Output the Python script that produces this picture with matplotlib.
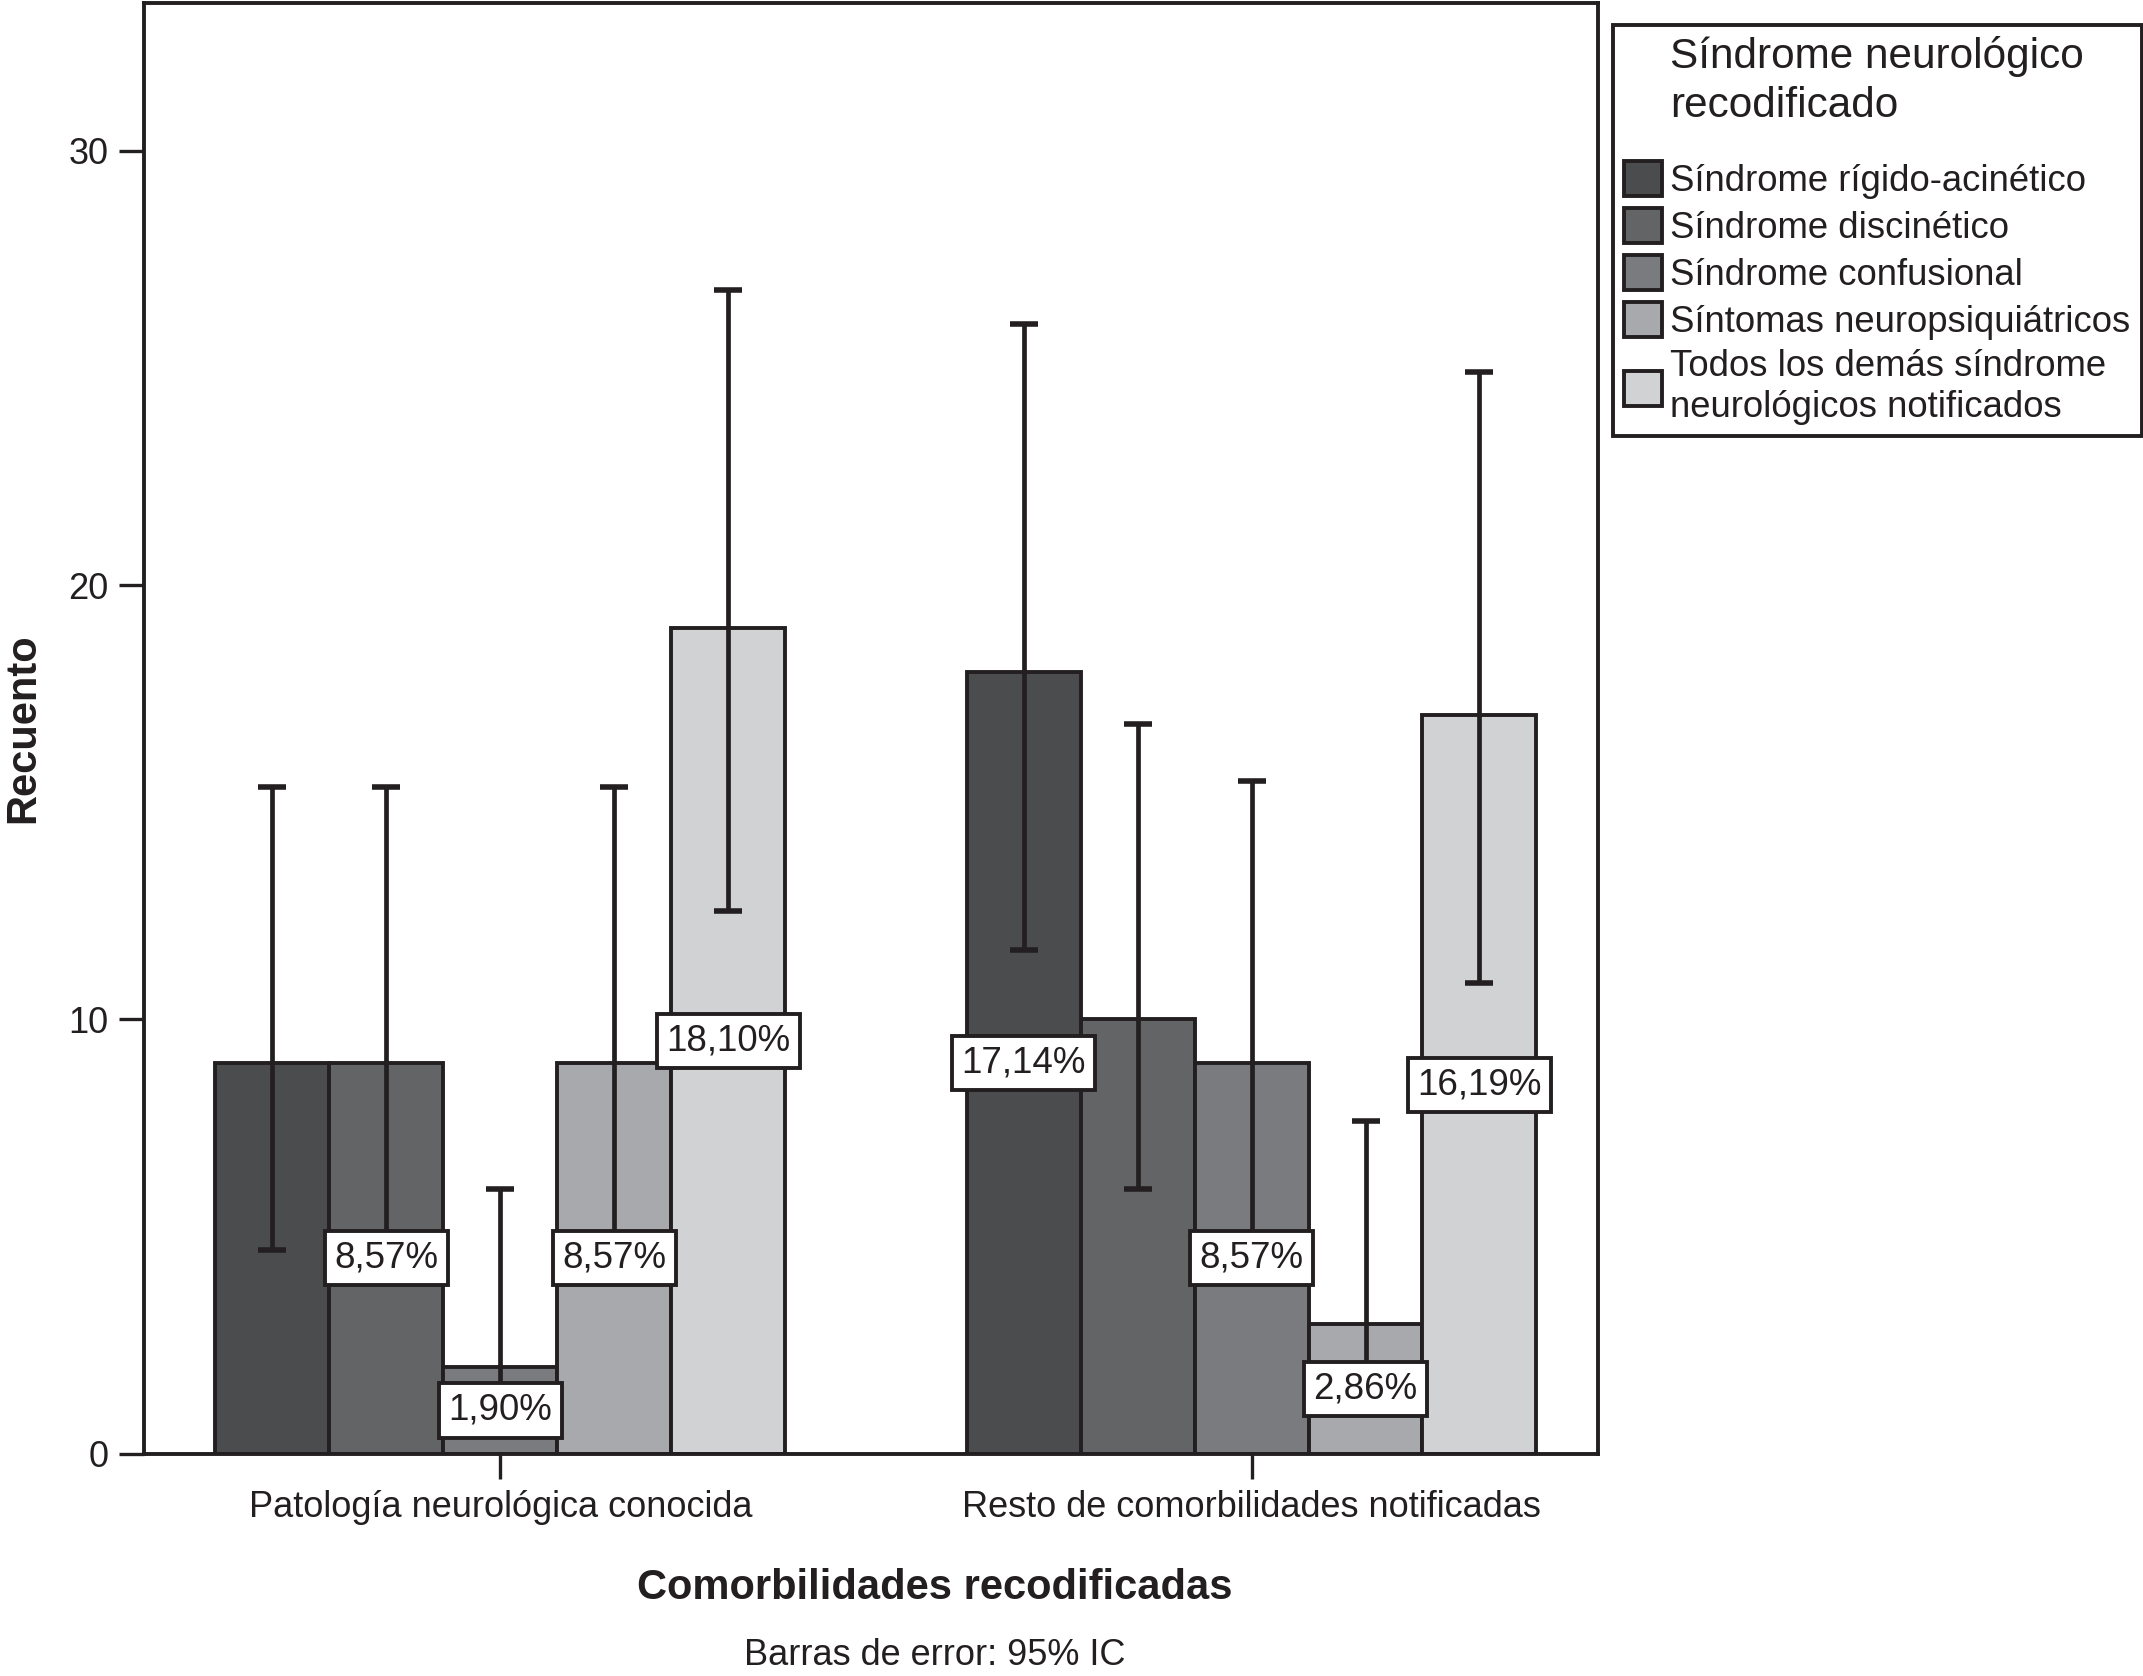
import numpy as np
import matplotlib.pyplot as plt

plt.rcParams['font.family'] = ['Liberation Sans', 'DejaVu Sans']

# Datos
comorbilidades = ["Patología neurológica conocida", "Resto de comorbilidades notificadas"]
sindromes = ["Síndrome rígido-acinético", "Síndrome discinético", "Síndrome confusional",
             "Síntomas neuropsiquiátricos",
             "Todos los demás síndrome\nneurológicos notificados"]

recuento_patologia = [9, 9, 2, 9, 19]
recuento_resto = [18, 10, 9, 3, 17]

# Intervalos de confianza 95% (inferior, superior)
ic_inf_patologia = [4.7, 4.7, 0.5, 4.7, 12.5]
ic_sup_patologia = [15.35, 15.35, 6.1, 15.35, 26.8]
ic_inf_resto = [11.6, 6.1, 4.7, 1.0, 10.85]
ic_sup_resto = [26.0, 16.8, 15.5, 7.67, 24.9]

# Etiquetas de porcentaje (None = sin etiqueta)
etiquetas_patologia = [None, "8,57%", "1,90%", "8,57%", "18,10%"]
etiquetas_resto = ["17,14%", None, "8,57%", "2,86%", "16,19%"]

colores = ["#4b4c4e", "#636466", "#7a7b7e", "#a8a9ac", "#d1d2d4"]
borde = "#231f20"

fig = plt.figure(figsize=(21.43, 16.76), dpi=100)
ax = fig.add_axes([0.0670, 0.1325, 0.6787, 0.8658])

ancho = 1.0
centros = np.array([0.0, 6.59])

for i, nombre in enumerate(sindromes):
    xs = centros + (i - 2) * ancho
    alturas = np.array([recuento_patologia[i], recuento_resto[i]])
    inf = np.array([ic_inf_patologia[i], ic_inf_resto[i]])
    sup = np.array([ic_sup_patologia[i], ic_sup_resto[i]])
    ax.bar(xs, alturas, width=ancho, color=colores[i], edgecolor=borde,
           linewidth=2.8, label=nombre, zorder=2)
    ax.errorbar(xs, alturas, yerr=[alturas - inf, sup - alturas], fmt='none',
                ecolor=borde, elinewidth=3.4, capsize=10, capthick=4, zorder=3)
    for x, h, txt in zip(xs, alturas, [etiquetas_patologia[i], etiquetas_resto[i]]):
        if txt is None:
            continue
        ax.text(x, h / 2, txt, ha='center', va='center', fontsize=26.5, zorder=5,
                color=borde,
                bbox=dict(boxstyle='square,pad=0.26', fc='white', ec=borde, lw=2.8))

ax.set_xlim(-3.13, 9.63)
ax.set_ylim(0, 33.4)
ax.set_yticks([0, 10, 20, 30])
ax.set_xticks(centros)
ax.set_xticklabels(comorbilidades)
ax.tick_params(axis='both', direction='out', length=18, width=2.4, labelsize=26,
               color=borde, labelcolor=borde)
ax.tick_params(axis='x', pad=8)
ax.tick_params(axis='y', pad=7)
for sp in ax.spines.values():
    sp.set_linewidth(2.8)
    sp.set_color(borde)

fig.text(0.0107, 0.5656, "Recuento", rotation=90, ha='center', va='center',
         fontsize=30, fontweight='bold', color=borde)
fig.text(0.436, 0.0525, "Comorbilidades recodificadas", ha='center', va='center',
         fontsize=30, fontweight='bold', color=borde)
fig.text(0.436, 0.0125, "Barras de error: 95% IC", ha='center', va='center',
         fontsize=26, color=borde)

leg = ax.legend(loc='upper left', bbox_to_anchor=(1613 / 2143, 1 - 25 / 1676),
                bbox_transform=fig.transFigure,
                title="Síndrome neurológico\nrecodificado", fontsize=26.3, title_fontsize=30.4,
                frameon=True, fancybox=False, edgecolor=borde, facecolor='white',
                framealpha=1, handlelength=1.05, handleheight=1.1, handletextpad=0.22,
                labelspacing=0.25, borderpad=0.3, borderaxespad=0)
leg.get_frame().set_linewidth(2.8)
leg.get_title().set_linespacing(1.3)
leg.get_title().set_color(borde)
for t in leg.get_texts():
    t.set_color(borde)
# espacio extra entre el título y las entradas
leg._legend_box.sep = 25

fig.savefig("out.png", dpi=100)
